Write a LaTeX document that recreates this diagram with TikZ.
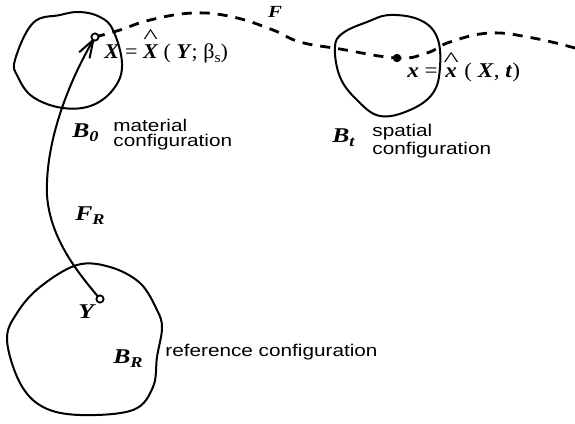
\documentclass[tikz,border=0pt]{standalone}
\usepackage{fontspec}
\setmainfont{Liberation Serif}
\setsansfont{Liberation Sans}
\usetikzlibrary{arrows.meta, positioning}

\newcommand{\wide}[1]{\scalebox{1.22}[1]{#1}}
\newcommand{\bi}[1]{\textbf{\textit{#1}}}
\newcommand{\lowsub}[1]{\raisebox{-0.5ex}{\fontsize{7.5}{8}\selectfont #1}}
\newcommand{\hatted}[1]{\leavevmode\vbox{\offinterlineskip\halign{\hfil##\hfil\cr
  \scalebox{1.4}[1]{\normalfont\^{}}\cr\noalign{\kern0.5pt}#1\cr}}}

\begin{document}
\begin{tikzpicture}[x=0.5pt, y=-0.5pt,
    body/.style={line width=1pt},
    fpath/.style={line width=1.4pt, dash pattern=on 5pt off 4pt},
    pt/.style={circle, draw, line width=0.9pt, fill=white, inner sep=0pt, minimum size=3.6pt},
    ptfill/.style={circle, fill, inner sep=0pt, minimum size=4.2pt},
    mlbl/.style={font=\fontsize{10.5}{11}\selectfont, inner sep=0pt},
    blbl/.style={font=\fontsize{10.5}{11}\selectfont\bfseries\itshape, inner sep=0pt},
    slbl/.style={font=\sffamily\fontsize{8.5}{7.5}\selectfont, align=left, inner sep=0pt}]
  \useasboundingbox (0,0) rectangle (575,424);

  % points
  \coordinate (X) at (95,37);
  \coordinate (x) at (397,58);
  \coordinate (Y) at (100,299);
  \coordinate (bend) at (47,195);
  \coordinate (Fend) at (575,48);

  % the three bodies
  \draw[body] plot[smooth cycle, tension=0.65] coordinates {(15,60) (33,23) (60,15) (80,12) (100,17) (113,30) (122,63) (115,87) (93,105) (63,108) (33,97) (18,77)};
  \draw[body] plot[smooth cycle, tension=0.65] coordinates {(335,47) (340,77) (357,100) (380,116) (410,110) (433,93) (440,67) (437,37) (420,20) (390,15) (367,22) (343,33)};
  \draw[body] plot[smooth cycle, tension=0.6] coordinates {(77,265) (110,267) (140,283) (157,310) (162,328) (157,357) (153,387) (133,410) (80,415) (43,407) (20,383) (7,340) (17,313) (40,287)};

  % motion and reference map
  \draw[fpath] plot[smooth, tension=0.7] coordinates {(X) (120,30) (150,20) (193,13) (233,17) (273,30) (300,42) (340,49) (x) (427,53) (450,42) (490,33) (533,38) (Fend)};
  \draw[body, -{Straight Barb[length=9pt, width=6pt]}] (Y) .. controls (80,275) and (50,240) .. (bend)
    .. controls (45,140) and (70,80) .. (X);

  \node[pt] (Xpt) at (X) {};
  \node[ptfill] (xpt) at (x) {};
  \node[pt] (Ypt) at (Y) {};

  % labels
  \node[mlbl, anchor=base west] (Xeq) at (104,58) {\scalebox{1.05}[1]{\bi{X} = \hatted{\bi{X}} ( \bi{Y}; β\lowsub{s})}};
  \node[mlbl, anchor=base west] (xeq) at (407,77) {\scalebox{1.1}[1]{\bi{x} = \hatted{\bi{x}} ( \bi{X}, \bi{t})}};
  \node[blbl, font=\fontsize{8.5}{9}\selectfont\bfseries\itshape] (Flbl) at (275,12) {\wide{F}};
  \node[blbl, anchor=base west] (FRlbl) at (75,220) {\wide{F\lowsub{R}}};
  \node[blbl, anchor=base west] (Ylbl) at (78,318) {\wide{Y}};

  \node[blbl, anchor=base west] (B0) at (72,137) {\wide{B\lowsub{0}}};
  \node[slbl, anchor=west] (mat) at (113,135) {\wide{material}\\\wide{configuration}};
  \node[blbl, anchor=base west] (Bt) at (332,142) {\wide{B\lowsub{t}}};
  \node[slbl, anchor=west] (spa) at (372,141) {\wide{spatial}\\\wide{configuration}};
  \node[blbl, anchor=base west] (BR) at (113,363) {\wide{B\lowsub{R}}};
  \node[slbl, anchor=base west] (ref) at (165,356) {\wide{reference configuration}};
\end{tikzpicture}
\end{document}
